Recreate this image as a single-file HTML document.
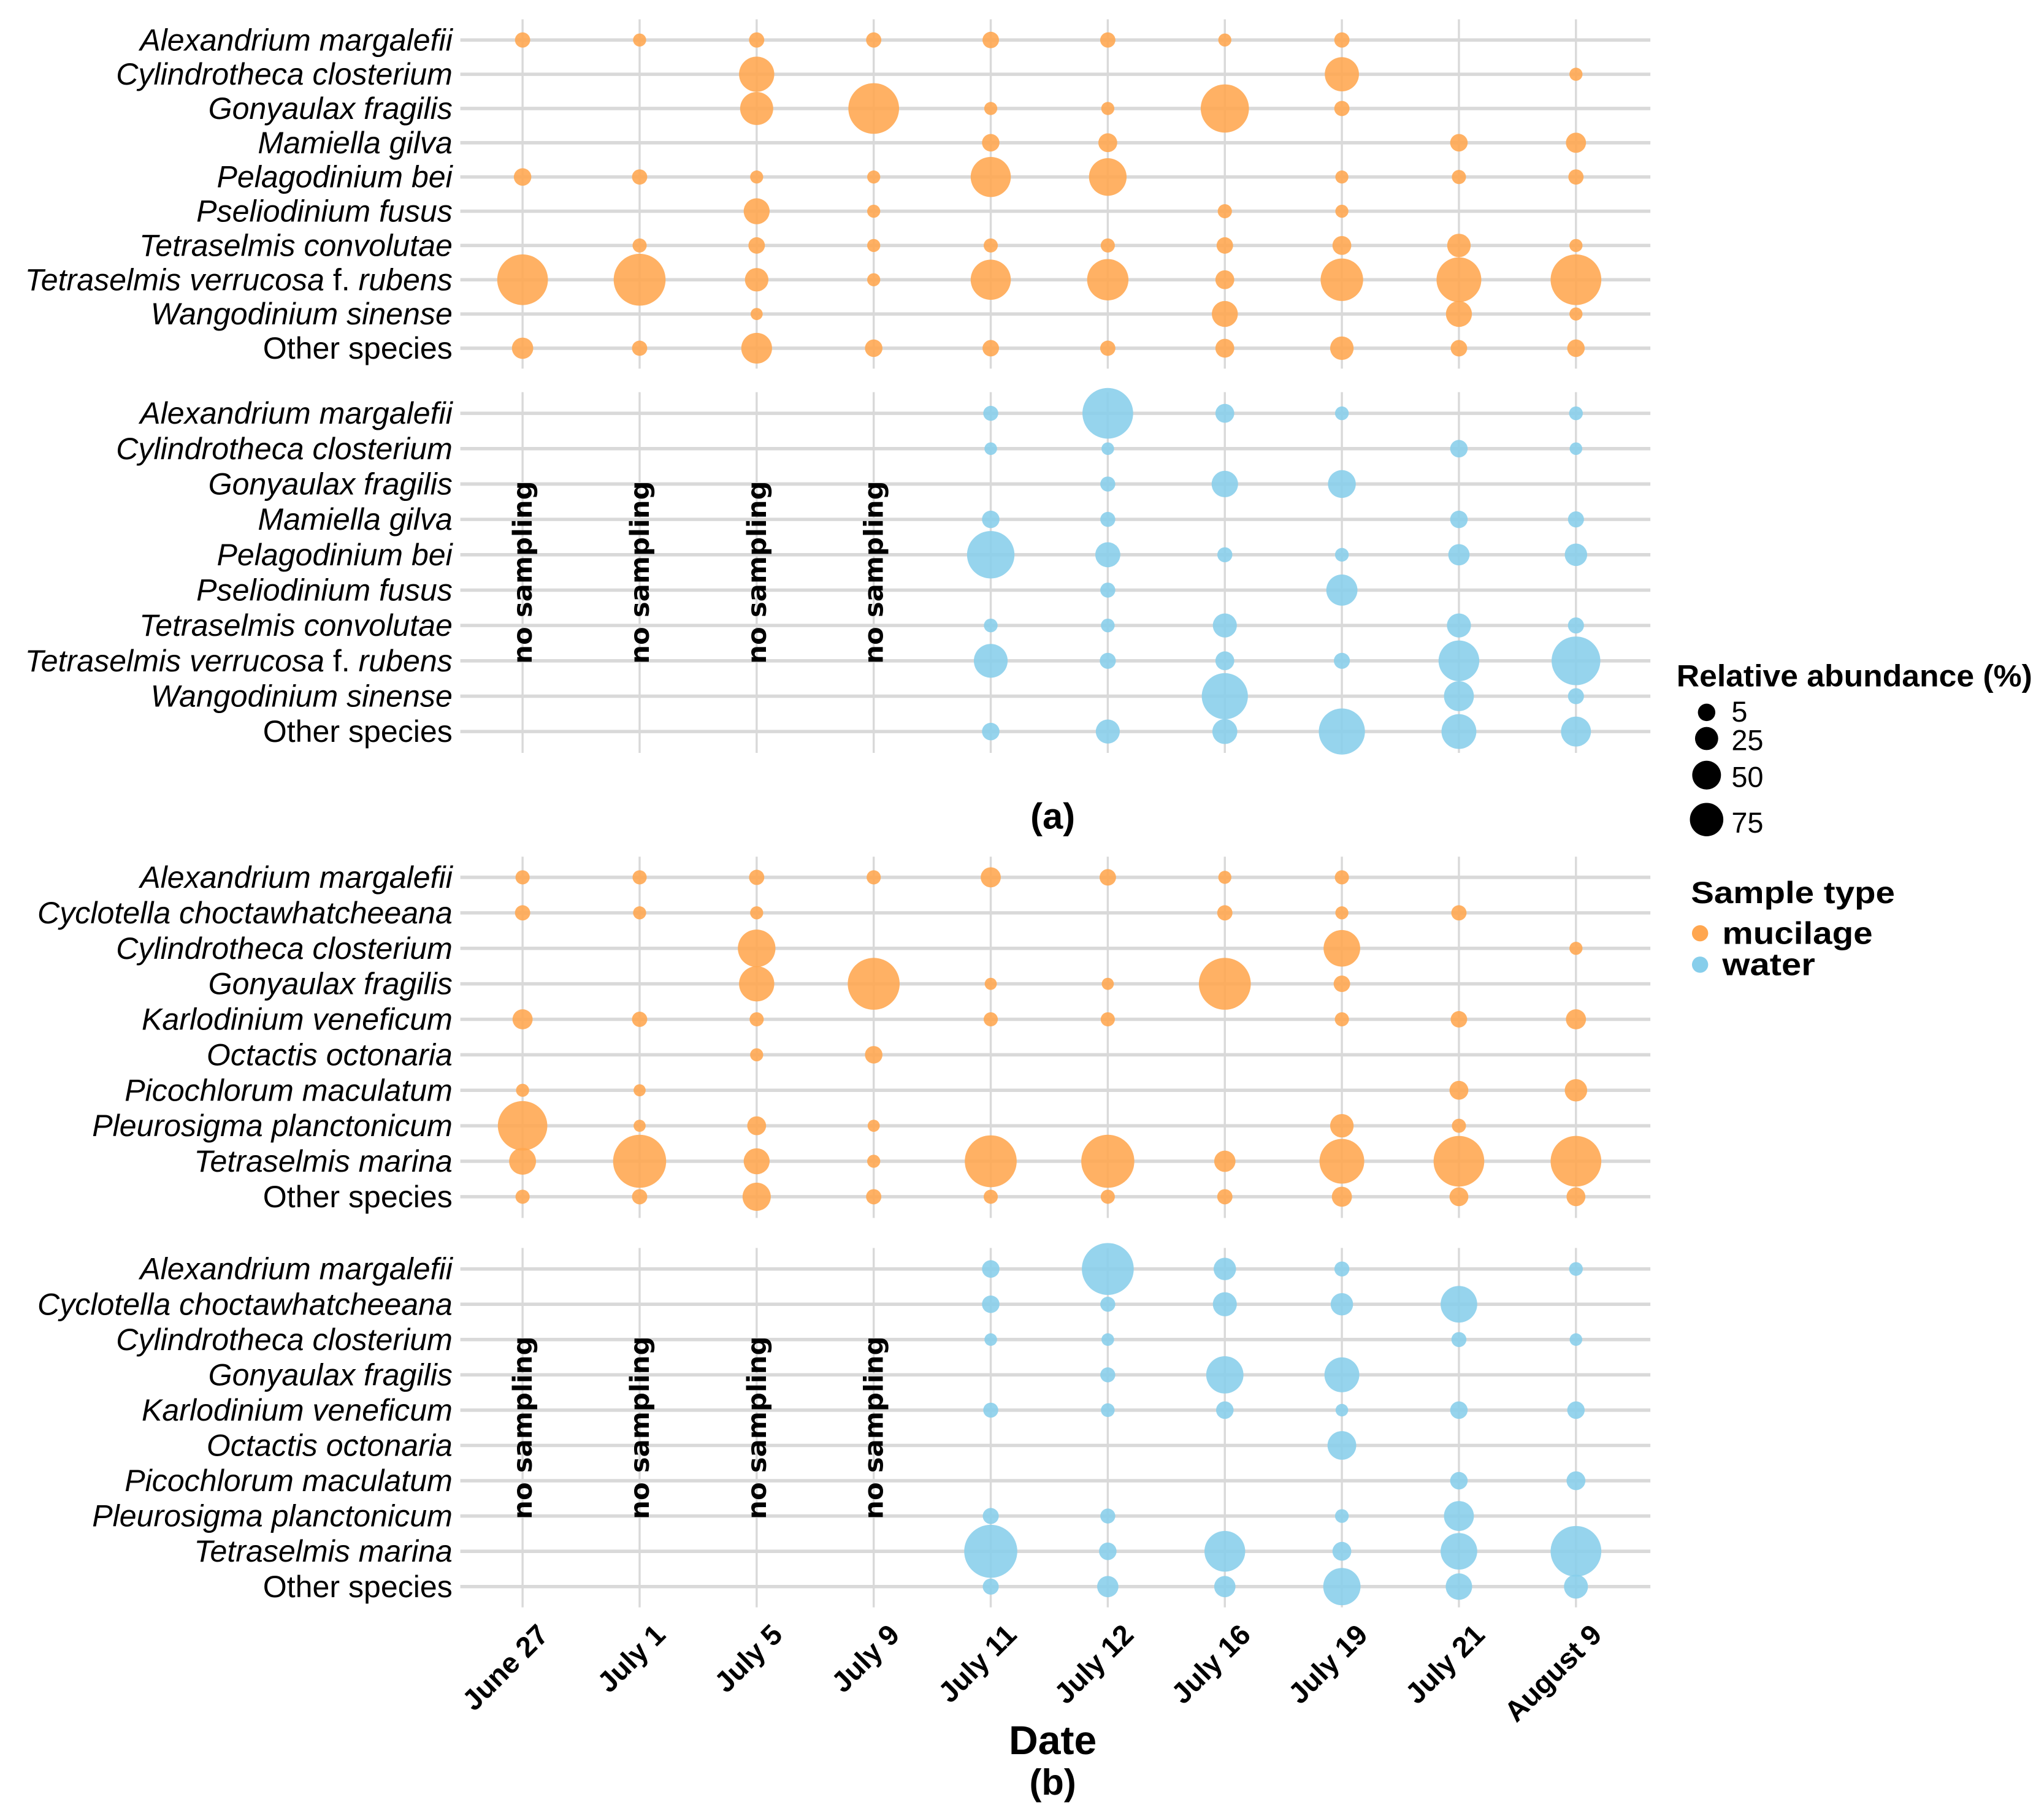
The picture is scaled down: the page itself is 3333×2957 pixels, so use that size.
<!DOCTYPE html>
<html><head><meta charset="utf-8"><style>
html,body{margin:0;padding:0;background:#fff;}
svg{display:block;}
text{font-family:"Liberation Sans",Arial,sans-serif;fill:#000;}
</style></head><body>
<svg id="chart" xmlns="http://www.w3.org/2000/svg" width="3333" height="2957" viewBox="0 0 1563 1387" preserveAspectRatio="none">
<g id="grid"></g>
<g id="marks"></g>
<g id="labels"></g>
<text x="805" y="634" text-anchor="middle" font-size="28" font-weight="bold">(a)</text>
<text x="805" y="1342" text-anchor="middle" font-size="31" font-weight="bold">Date</text>
<text x="805" y="1373" text-anchor="middle" font-size="28" font-weight="bold">(b)</text>
<g id="legend">
<text x="1282" y="525" font-size="23.5" font-weight="bold" textLength="272" lengthAdjust="spacingAndGlyphs">Relative abundance (%)</text>
<text x="1293" y="691" font-size="23.5" font-weight="bold" textLength="156" lengthAdjust="spacingAndGlyphs">Sample type</text>
<circle cx="1300" cy="714" r="6.2" fill="#FFA64F"/>
<text x="1317" y="722" font-size="24" font-weight="bold" textLength="115" lengthAdjust="spacingAndGlyphs">mucilage</text>
<circle cx="1300" cy="738" r="6.2" fill="#87CEEB"/>
<text x="1317" y="746" font-size="24" font-weight="bold" textLength="71" lengthAdjust="spacingAndGlyphs">water</text>
</g>
</svg>
<script>
const dates = ["June 27","July 1","July 5","July 9","July 11","July 12","July 16","July 19","July 21","August 9"];
const speciesA = ["Alexandrium margalefii","Cylindrotheca closterium","Gonyaulax fragilis","Mamiella gilva","Pelagodinium bei","Pseliodinium fusus","Tetraselmis convolutae","Tetraselmis verrucosa f. rubens","Wangodinium sinense","Other species"];
const speciesB = ["Alexandrium margalefii","Cyclotella choctawhatcheeana","Cylindrotheca closterium","Gonyaulax fragilis","Karlodinium veneficum","Octactis octonaria","Picochlorum maculatum","Pleurosigma planctonicum","Tetraselmis marina","Other species"];
const n = null;
const mucilageA = [
 [5,2.5,5,5,6.6,5,2.5,5,n,n],
 [n,n,46,n,n,n,n,43,n,2.5],
 [n,n,40,100,2.5,2.5,90,5,n,n],
 [n,n,n,n,8,10,n,n,8,12],
 [8,5,2.5,2.5,61,53,n,2.5,3.7,5],
 [n,n,23,2.5,n,n,3.7,2.5,n,n],
 [n,3.7,6.6,2.5,3.7,3.7,6.6,10,18,2.5],
 [100,105,18,2.5,61,65,10,69,77,100],
 [n,n,1.5,n,n,n,23,n,23,2.5],
 [14,5,34,8,6.6,5,10,18,6.6,8]
];
const waterA = [
 [n,n,n,n,4.7,100,10,3.2,n,3.2],
 [n,n,n,n,2,2,n,n,8,2],
 [n,n,n,n,n,4.7,24,27,n,n],
 [n,n,n,n,8,4.7,n,n,8,6],
 [n,n,n,n,87,21,4.7,3.2,14,16],
 [n,n,n,n,n,4.7,n,35,n,n],
 [n,n,n,n,3.2,3.2,19,n,19,6],
 [n,n,n,n,42,6,10,6,63,92],
 [n,n,n,n,n,n,82,n,32,6],
 [n,n,n,n,8,19,21,82,45,32]
];
const mucilageB = [
 [3.7,3.7,5,3.7,12,6.6,2.5,3.7,n,n],
 [5,2.5,2.5,n,n,n,5,2.5,5,n],
 [n,n,53,n,n,n,n,50,n,2.5],
 [n,n,46,105,1.5,1.5,105,6.6,n,n],
 [12,5,3.7,n,3.7,3.7,n,3.7,6.6,12],
 [n,n,2.5,8,n,n,n,n,n,n],
 [2.5,1.5,n,n,n,n,n,n,10,16],
 [95,1.5,10,1.5,n,n,n,18,3.7,n],
 [25,110,23,2.5,105,110,14,77,100,100],
 [3.7,5,28,5,3.7,3.7,5,12,10,10]
];
const waterB = [
 [n,n,n,n,8,105,16,4.7,n,3.2],
 [n,n,n,n,8,4.7,19,16,50,n],
 [n,n,n,n,2,2,n,n,4.7,2],
 [n,n,n,n,n,4.7,52,45,n,n],
 [n,n,n,n,4.7,3.2,8,2,8,8],
 [n,n,n,n,n,n,n,29,n,n],
 [n,n,n,n,n,n,n,n,8,10],
 [n,n,n,n,6,4.7,n,3.2,32,n],
 [n,n,n,n,110,8,63,10,50,100],
 [n,n,n,n,6,14,14,52,24,19]
];
const legendValues = [5,25,50,75];
const noSamplingCols = [0,1,2,3];

const NS = "http://www.w3.org/2000/svg";
const grid = document.getElementById('grid');
const marks = document.getElementById('marks');
const labels = document.getElementById('labels');
const legend = document.getElementById('legend');
function mk(tag, attrs, parent){const e=document.createElementNS(NS,tag);for(const k in attrs)e.setAttribute(k,attrs[k]);parent.appendChild(e);return e;}
function xScale(i){return 399.6 + 89.5*i;}
function rScale(v){return Math.sqrt(16 + 3.6*v);}
function rLegend(v){return Math.sqrt(36 + 1.7*v);}

const panels = [
 {key:'a-mucilage', species:speciesA, vals:mucilageA, color:'#FFA64F', y0:30.6, step:26.2, top:14.8, bot:282},
 {key:'a-water', species:speciesA, vals:waterA, color:'#87CEEB', y0:316.2, step:27.05, top:300, bot:576, nos:true},
 {key:'b-mucilage', species:speciesB, vals:mucilageB, color:'#FFA64F', y0:671.2, step:27.15, top:655.4, bot:931.8},
 {key:'b-water', species:speciesB, vals:waterB, color:'#87CEEB', y0:970.8, step:27.0, top:954.7, bot:1229.7, nos:true}
];

panels.forEach(p=>{
  const yS = j => p.y0 + p.step*j;
  p.species.forEach((s,j)=>{
    const l = mk('line',{x1:352,x2:1262,y1:yS(j),y2:yS(j),stroke:'#D9D9D9','stroke-width':2.6},grid);
    
    
    const t = mk('text',{x:346,y:yS(j)+8,'text-anchor':'end','font-size':23.5},labels);
    
    
    if(s==='Other species'){t.textContent=s;}
    else if(s.indexOf(' f. ')>=0){
      const parts=s.split(' f. ');
      const a=mk('tspan',{'font-style':'italic'},t);a.textContent=parts[0]+' ';
      const b=mk('tspan',{},t);b.textContent='f. ';
      const c=mk('tspan',{'font-style':'italic'},t);c.textContent=parts[1];
    } else {t.setAttribute('font-style','italic');t.textContent=s;}
  });
  dates.forEach((d,i)=>{
    const l = mk('line',{x1:xScale(i),x2:xScale(i),y1:p.top,y2:p.bot,stroke:'#D9D9D9','stroke-width':1.6},grid);
    
    
  });
  p.vals.forEach((row,j)=>{
    row.forEach((v,i)=>{
      if(v===null) return;
      const c = mk('circle',{cx:xScale(i),cy:yS(j),r:rScale(v),fill:p.color,'fill-opacity':0.88},marks);
      
      
    });
  });
  if(p.nos){
    const cy = p.y0 + p.step*4.5;
    noSamplingCols.forEach(i=>{
      const t = mk('text',{transform:'translate('+(xScale(i)+7)+','+cy+') rotate(-90)','text-anchor':'middle','font-size':20,'font-weight':'bold',textLength:140,lengthAdjust:'spacingAndGlyphs'},labels);
      t.style.fontFamily='"DejaVu Sans",sans-serif';
      t.textContent='no sampling';
      
      
    });
  }
});

dates.forEach((d,i)=>{
  const x = xScale(i)+21, y = 1252;
  const t = mk('text',{transform:'translate('+x+','+y+') rotate(-45)','text-anchor':'end','font-size':22,'font-weight':'bold'},labels);
  t.textContent = d;
  
  
});

const legCY = [545,565,593,627];
const legTY = [552,574,602,637];
legendValues.forEach((v,k)=>{
  const c = mk('circle',{cx:1305,cy:legCY[k],r:rLegend(v),fill:'#000'},legend);
  
  
  const t = mk('text',{x:1324,y:legTY[k],'font-size':22},legend);
  t.textContent = String(v);
  
  
});
</script>
</body></html>
